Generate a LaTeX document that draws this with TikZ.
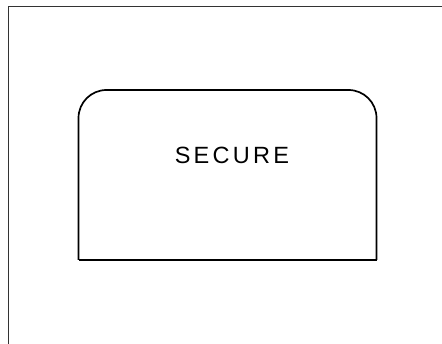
\documentclass[tikz,border=0pt]{standalone}
\usepackage{fontspec}
\setmainfont{Liberation Sans}
\begin{document}
\begin{tikzpicture}[x=1pt,y=-1pt,
  frameline/.style={line width=1pt, draw=black!80},
  boxline/.style={line width=1.7pt, draw=black},
  labeltext/.style={font=\fontsize{23.5}{26}\selectfont\addfontfeatures{LetterSpace=14}, inner sep=0pt, anchor=base}]
\useasboundingbox (0,0) rectangle (442,344);
% cropped outer frame (top and left edges)
\coordinate (fbl) at (8,344);
\coordinate (ftl) at (8,7);
\coordinate (ftr) at (442,7);
\draw[frameline] (fbl) -- (ftl) -- (ftr);
% the box: rounded top corners, square bottom corners
\coordinate (bl) at (78.5,260);
\coordinate (tl) at (78.5,90);
\coordinate (tr) at (376.5,90);
\coordinate (br) at (376.5,260);
\draw[boxline, rounded corners=28pt] (bl) -- (tl) -- (tr) -- (br);
\draw[boxline] (br) -- (bl);
\node[labeltext] (secure) at (232,163.5) {SECURE};
\end{tikzpicture}
\end{document}
